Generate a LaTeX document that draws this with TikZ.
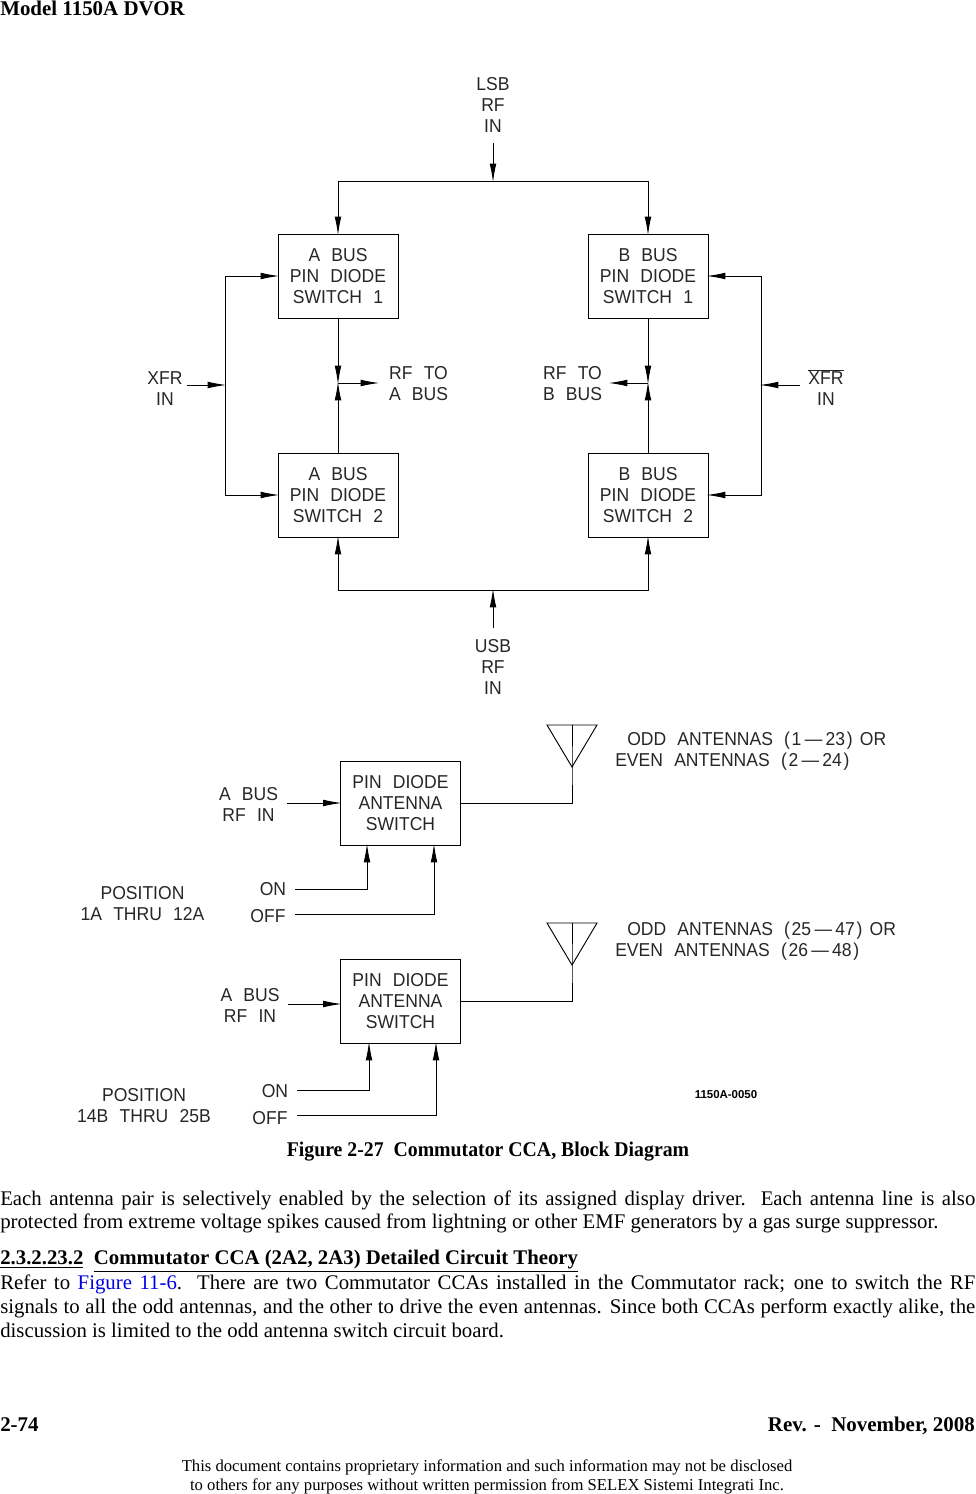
\documentclass[tikz,border=0pt]{standalone}
\usepackage{fontspec}
\setmainfont{Liberation Serif}
\newfontfamily\cadfont[FakeStretch=0.94,WordSpace=2.3]{Liberation Sans}
\newfontfamily\tagfont{Liberation Sans}
\usepackage{xcolor}
\definecolor{linkblue}{RGB}{0,0,230}
\usetikzlibrary{arrows.meta,positioning}
\newcommand{\bodyline}[1]{\makebox[731.25pt][s]{#1}}
\newcommand{\antrange}[2]{(\kern1.25pt#1\kern2.5pt—\kern2.5pt#2\kern1.25pt)}
\begin{document}
\begin{tikzpicture}[x=0.75pt,y=-0.75pt,
  box/.style={draw,line width=0.7pt,minimum width=90pt,minimum height=63pt,inner sep=0pt,outer sep=0pt,
    text depth=-1.5pt,font=\cadfont\fontsize{14}{15.75}\selectfont,align=center,text=black!85},
  lab/.style={inner sep=0pt,font=\cadfont\fontsize{14}{15.75}\selectfont,align=center,text=black!85},
  body/.style={inner sep=0pt,anchor=west,font=\fontsize{15.6}{18}\selectfont},
  bodyb/.style={inner sep=0pt,font=\bfseries\fontsize{15.7}{18}\selectfont},
  fine/.style={inner sep=0pt,align=center,font=\fontsize{12.5}{14.25}\selectfont},
  wire/.style={line width=0.7pt},
  arr/.style={wire,shorten >=-1pt,-{Latex[length=14pt,width=5pt]}}
]
  \useasboundingbox (0,0) rectangle (975,1494);
  % Page text
  \node[bodyb,anchor=west] (header) at (0,8.5) {Model 1150A DVOR};
  % Upper diagram
  \node[lab] (lsb) at (493,105) {LSB\\RF\\IN};
  \node[box] (a1) at (338,276) {A BUS\\PIN DIODE\\SWITCH 1};
  \node[box] (b1) at (648,276) {B BUS\\PIN DIODE\\SWITCH 1};
  \node[box] (a2) at (338,495) {A BUS\\PIN DIODE\\SWITCH 2};
  \node[box] (b2) at (648,495) {B BUS\\PIN DIODE\\SWITCH 2};
  \node[lab] (usb) at (493,667) {USB\\RF\\IN};
  \node[lab] (xfr) at (165,388.5) {XFR\\IN};
  \node[lab] (xfrbar) at (826,387.5) {$\overline{\mbox{XFR}}$\\IN};
  \node[lab] (rfa) at (418.5,383.5) {RF TO\\A BUS};
  \node[lab] (rfb) at (572.5,383.5) {RF TO\\B BUS};
  \coordinate (lsbend) at (493,143);
  \coordinate (topbus) at (493,181);
  \coordinate (usbend) at (493,628);
  \coordinate (botbus) at (493,590);
  \coordinate (xfrend) at (187,385);
  \coordinate (xfrbus) at (225,385);
  \coordinate (barend) at (800,385);
  \coordinate (barbus) at (761,385);
  \coordinate (amid) at (338,383);
  \coordinate (bmid) at (648,383);
  \coordinate (aout) at (378,383);
  \coordinate (bout) at (610,383);
  \draw[arr] (lsbend) -- (topbus);
  \draw[arr] (topbus) -| (a1.north);
  \draw[arr] (topbus) -| (b1.north);
  \draw[arr] (usbend) -- (botbus);
  \draw[arr] (botbus) -| (a2.south);
  \draw[arr] (botbus) -| (b2.south);
  \draw[arr] (xfrend) -- (xfrbus);
  \draw[arr] (xfrbus) |- (a1.west);
  \draw[arr] (xfrbus) |- (a2.west);
  \draw[arr] (barend) -- (barbus);
  \draw[arr] (barbus) |- (b1.east);
  \draw[arr] (barbus) |- (b2.east);
  \draw[arr] (a1.south) -- (amid);
  \draw[arr] (a2.north) -- (amid);
  \draw[arr] (b1.south) -- (bmid);
  \draw[arr] (b2.north) -- (bmid);
  \draw[arr] (amid) -- (aout);
  \draw[arr] (bmid) -- (bout);
  % Lower diagram, first switch
  \node[box] (sw1) at (400.5,803) {PIN DIODE\\ANTENNA\\SWITCH};
  \node[lab] (busa) at (248.5,804.5) {A BUS\\RF IN};
  \node[lab] (pos1) at (142.5,904) {POSITION\\1A THRU 12A};
  \node[lab] (on1) at (273,889) {ON};
  \node[lab] (off1) at (268,916) {OFF};
  \node[lab,anchor=west] (odd1) at (627,741) {ODD ANTENNAS \antrange{1}{23}\kern-3pt\ OR};
  \node[lab,anchor=west] (even1) at (615,762) {EVEN ANTENNAS \antrange{2}{24}};
  \coordinate (busaend) at (287,803);
  \coordinate (ant1) at (572,767);
  \coordinate (ant1m) at (572,725);
  \coordinate (on1end) at (295,889);
  \coordinate (off1end) at (295,914);
  \draw[arr] (busaend) -- (sw1.west);
  \draw[wire] (sw1.east) -| (ant1) -- (ant1m);
  \draw[wire] (547,725) -- (597,725) -- (ant1) -- cycle;
  \draw[arr] (on1end) -| (367,845);
  \draw[arr] (off1end) -| (434,845);
  % Lower diagram, second switch
  \node[box] (sw2) at (400.5,1001) {PIN DIODE\\ANTENNA\\SWITCH};
  \node[lab] (busb) at (250,1005.5) {A BUS\\RF IN};
  \node[lab] (pos2) at (144,1105.5) {POSITION\\14B THRU 25B};
  \node[lab] (on2) at (275,1091) {ON};
  \node[lab] (off2) at (270,1118) {OFF};
  \node[lab,anchor=west] (odd2) at (627,931) {ODD ANTENNAS \antrange{25}{47}\kern-3pt\ OR};
  \node[lab,anchor=west] (even2) at (615,952) {EVEN ANTENNAS \antrange{26}{48}};
  \coordinate (busbend) at (288,1004);
  \coordinate (ant2) at (572,965);
  \coordinate (ant2m) at (572,923);
  \coordinate (on2end) at (297,1090);
  \coordinate (off2end) at (297,1115);
  \draw[arr] (busbend) -- (sw2.west |- busbend);
  \draw[wire] (sw2.east) -| (ant2) -- (ant2m);
  \draw[wire] (547,923) -- (597,923) -- (ant2) -- cycle;
  \draw[arr] (on2end) -| (369,1043);
  \draw[arr] (off2end) -| (436,1043);
  \node[inner sep=0pt,font=\tagfont\bfseries\fontsize{8.6}{10}\selectfont] (tag) at (726,1095) {1150A-0050};
  % Caption and paragraphs
  \node[bodyb] (caption) at (488,1152) {\addfontfeature{FakeStretch=0.945}Figure 2-27\ \ Commutator CCA, Block Diagram};
  \node[body] (p1) at (0,1200) {\bodyline{Each antenna pair is selectively enabled by the selection of its assigned display driver.\ \ Each antenna line is also}};
  \node[body] (p2) at (0,1223) {protected from extreme voltage spikes caused from lightning or other EMF generators by a gas surge suppressor.};
  \node[bodyb,anchor=west,font=\bfseries\fontsize{15.6}{18}\selectfont] (sect) at (0,1261) {\underline{2.3.2.23.2}\ \ \underline{Commutator CCA (2A2, 2A3) Detailed Circuit Theory}};
  \node[body] (p3) at (0,1284) {\bodyline{Refer to \textcolor{linkblue}{Figure 11-6}.\ \ There are two Commutator CCAs installed in the Commutator rack; one to switch the RF}};
  \node[body] (p4) at (0,1308) {\bodyline{signals to all the odd antennas, and the other to drive the even antennas. Since both CCAs perform exactly alike, the}};
  \node[body] (p5) at (0,1330.5) {discussion is limited to the odd antenna switch circuit board.};
  % Footer
  \node[bodyb,anchor=west] (pagenum) at (0,1425) {2-74};
  \node[bodyb,anchor=east] (rev) at (975,1426) {Rev. -\ \ November, 2008};
  \node[fine] (notice) at (487,1477) {This document contains proprietary information and such information may not be disclosed\\to others for any purposes without written permission from SELEX Sistemi Integrati Inc.};
\end{tikzpicture}
\end{document}
